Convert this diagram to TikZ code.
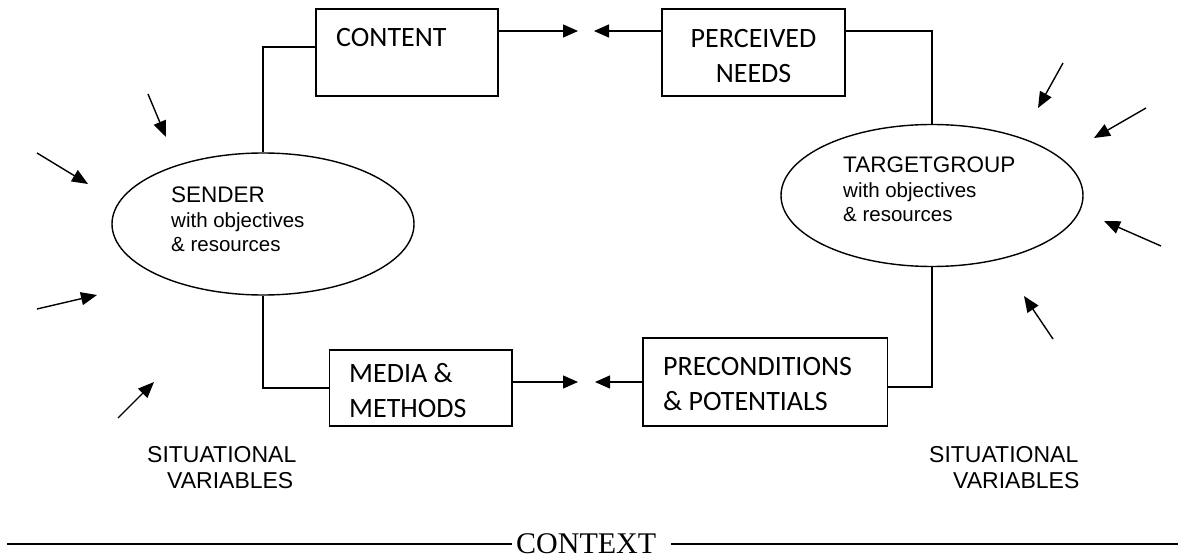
\documentclass[tikz,border=0pt]{standalone}
\usepackage{fontspec}
\setmainfont{Liberation Sans}
\newfontfamily\boxfont{Carlito}
\newfontfamily\ctxfont{Liberation Serif}
\usetikzlibrary{arrows.meta,shapes.geometric,calc}
\begin{document}
\begin{tikzpicture}[x=1pt,y=-1pt,
  box/.style={draw, rectangle, inner sep=0pt, line width=1.4pt},
  oval/.style={draw, ellipse, inner sep=0pt, line width=1.4pt, minimum width=302pt, minimum height=142pt},
  boxtext/.style={font=\boxfont\fontsize{28}{35}\selectfont, inner sep=0pt},
  ovaltext/.style={font=\fontsize{20.5}{24.5}\selectfont, align=left, inner sep=0pt, anchor=north west},
  sitvar/.style={font=\fontsize{23}{26}\selectfont, align=left, inner sep=0pt, anchor=north west},
  link/.style={line width=1.4pt},
  flow/.style={-{Triangle[length=15pt,width=13pt]}, line width=1.4pt},
  influence/.style={-{Triangle[length=16pt,width=13pt]}, line width=1.4pt},
  ctxline/.style={line width=2pt}
]
\useasboundingbox (0,0) rectangle (1178,559);

% boxes
\node[box, minimum width=182pt, minimum height=87pt] (content) at (407,52.5) {};
\node[box, minimum width=183pt, minimum height=87pt] (needs) at (753.5,52.5) {};
\node[box, minimum width=182.5pt, minimum height=76pt] (media) at (420.75,388) {};
\node[box, minimum width=244.5pt, minimum height=88pt] (precond) at (765.25,382) {};

% ellipses
\node[oval] (sender) at (263,224) {};
\node[oval] (target) at (932,195.5) {};

% box texts
\node[boxtext, anchor=base west] (contentlbl) at (336,47) {CONTENT};
\node[boxtext, anchor=north, align=center] (needslbl) at (753.5,29) {PERCEIVED\\NEEDS};
\node[boxtext, anchor=north west, align=left] (medialbl) at (349,363) {MEDIA \&\\METHODS};
\node[boxtext, anchor=north west, align=left] (precondlbl) at (663,357) {PRECONDITIONS\\\& POTENTIALS};

% ellipse texts
\node[ovaltext] (senderlbl) at (171,187) {{\fontsize{22.5}{24.5}\selectfont SENDER}\\with objectives\\\& resources};
\node[ovaltext] (targetlbl) at (843,157) {{\fontsize{22.5}{24.5}\selectfont TARGETGROUP}\\with objectives\\\& resources};

% situational variables
\node[sitvar] (sitL) at (147,446) {SITUATIONAL\\\hspace*{20pt}VARIABLES};
\node[sitvar] (sitR) at (929,446) {SITUATIONAL\\\hspace*{24pt}VARIABLES};

% connectors
\draw[link] ([yshift=5.5pt]content.west) -| (sender.north);
\draw[link] ([yshift=21.5pt]needs.east) -| (target.north);
\draw[link] (sender.south) |- (media.west);
\draw[link] (target.south) |- ([yshift=-5pt]precond.east);

% flow arrows
\coordinate (topL) at (578,31);
\coordinate (topR) at (594,31);
\coordinate (botL) at (578,382);
\coordinate (botR) at (595,382);
\draw[flow] ([yshift=21.5pt]content.east) -- (topL);
\draw[flow] ([yshift=21.5pt]needs.west) -- (topR);
\draw[flow] ([yshift=6pt]media.east) -- (botL);
\draw[flow] (precond.west) -- (botR);

% situational influence arrows (left)
\coordinate (l1a) at (148,94);  \coordinate (l1b) at (166,137);
\coordinate (l2a) at (37,153);  \coordinate (l2b) at (88,184);
\coordinate (l3a) at (37,309);  \coordinate (l3b) at (97,295);
\coordinate (l4a) at (118,418); \coordinate (l4b) at (154,382);
\draw[influence] (l1a) -- (l1b);
\draw[influence] (l2a) -- (l2b);
\draw[influence] (l3a) -- (l3b);
\draw[influence] (l4a) -- (l4b);
% right
\coordinate (r1a) at (1063,63);  \coordinate (r1b) at (1038,108);
\coordinate (r2a) at (1146,108); \coordinate (r2b) at (1094,138);
\coordinate (r3a) at (1161,246); \coordinate (r3b) at (1104,221);
\coordinate (r4a) at (1053,339); \coordinate (r4b) at (1024,296);
\draw[influence] (r1a) -- (r1b);
\draw[influence] (r2a) -- (r2b);
\draw[influence] (r3a) -- (r3b);
\draw[influence] (r4a) -- (r4b);

% context
\node[font=\ctxfont\fontsize{30}{36}\selectfont, inner sep=0pt, anchor=base west] (ctx) at (516,553) {CONTEXT};
\coordinate (ctxL) at (7,544);
\coordinate (ctxR) at (1178,544);
\draw[ctxline] (ctxL) -- ([xshift=-4pt]ctx.west |- ctxL);
\draw[ctxline] ([xshift=15pt]ctx.east |- ctxR) -- (ctxR);
\end{tikzpicture}
\end{document}
